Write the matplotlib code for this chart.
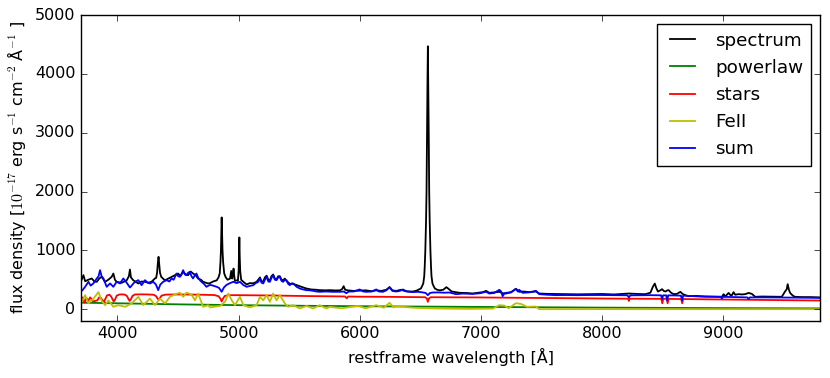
import matplotlib
matplotlib.use("Agg")
import matplotlib.pyplot as plt

# spectrum (black)
wl_spec = [3700, 3706, 3720, 3734, 3760, 3789, 3810, 3830, 3850, 3871, 3898, 3925, 3953, 3967, 3980,
           3994, 4036, 4077, 4095, 4104, 4112, 4132, 4173, 4200, 4228, 4255, 4282, 4310, 4320, 4328,
           4334, 4340, 4346, 4352, 4362, 4392, 4420, 4447, 4475, 4502, 4520, 4543, 4565, 4584, 4605,
           4625, 4645, 4666, 4690, 4708, 4749, 4765, 4790, 4820, 4835, 4845, 4851, 4855, 4858, 4861,
           4864, 4868, 4873, 4882, 4895, 4910, 4930, 4940, 4948, 4955, 4959, 4963, 4970, 4985, 4995,
           5001, 5004, 5007, 5010, 5014, 5022, 5040, 5067, 5094, 5122, 5149, 5163, 5177, 5190, 5204,
           5218, 5232, 5246, 5259, 5272, 5286, 5300, 5314, 5328, 5341, 5355, 5369, 5382, 5396, 5424,
           5451, 5478, 5506, 5533, 5561, 5600, 5640, 5670, 5720, 5753, 5800, 5836, 5855, 5868, 5880,
           5900, 5950, 6000, 6050, 6100, 6137, 6180, 6220, 6247, 6270, 6302, 6340, 6380, 6420, 6440,
           6470, 6495, 6505, 6515, 6525, 6533, 6537, 6542, 6548, 6552, 6556, 6560, 6563, 6566, 6570,
           6574, 6578, 6584, 6589, 6593, 6601, 6611, 6621, 6640, 6660, 6690, 6716, 6731, 6760, 6790,
           6824, 6880, 6933, 6980, 7020, 7043, 7070, 7110, 7153, 7180, 7208, 7250, 7290, 7317, 7350,
           7400, 7455, 7482, 7550, 7620, 7729, 7800, 7920, 8000, 8100, 8222, 8300, 8359, 8400, 8420,
           8436, 8448, 8462, 8482, 8496, 8510, 8524, 8540, 8551, 8570, 8592, 8620, 8647, 8665, 8688,
           8716, 8780, 8853, 8920, 8990, 9004, 9018, 9045, 9060, 9073, 9086, 9100, 9127, 9155, 9182,
           9210, 9237, 9265, 9320, 9400, 9484, 9511, 9525, 9533, 9543, 9553, 9575, 9594, 9650, 9720,
           9800]
flux_spec = [480, 504, 578, 475, 500, 522, 470, 465, 520, 550, 465, 500, 550, 606, 500,
             465, 448, 490, 560, 674, 540, 490, 437, 470, 465, 450, 465, 522, 530, 620,
             780, 890, 760, 620, 550, 490, 520, 550, 580, 606, 560, 635, 590, 578, 640,
             606, 580, 522, 500, 465, 437, 443, 470, 490, 540, 607, 800, 1003, 1300, 1560,
             1300, 1003, 800, 607, 540, 500, 520, 650, 520, 600, 690, 600, 480, 490, 480,
             650, 900, 1220, 900, 650, 500, 465, 420, 443, 440, 465, 500, 540, 470, 470,
             540, 570, 500, 490, 560, 590, 520, 510, 560, 560, 500, 490, 520, 480, 430,
             430, 410, 390, 370, 351, 335, 330, 323, 320, 323, 318, 320, 340, 391, 330,
             320, 310, 315, 320, 305, 320, 310, 330, 374, 320, 310, 330, 305, 300, 300,
             315, 340, 351, 390, 436, 560, 720, 1000, 1500, 2000, 3000, 3900, 4470, 3900, 3000,
             2000, 1500, 1000, 720, 560, 436, 390, 351, 330, 320, 330, 374, 350, 300, 290,
             278, 275, 266, 280, 290, 312, 278, 285, 295, 270, 266, 290, 346, 295, 300,
             290, 300, 266, 260, 258, 255, 252, 255, 258, 250, 266, 258, 255, 280, 380,
             436, 360, 300, 320, 340, 310, 300, 320, 323, 280, 255, 260, 295, 260, 238,
             221, 225, 215, 212, 210, 255, 215, 276, 240, 238, 289, 245, 255, 250, 255,
             276, 260, 210, 215, 212, 210, 300, 340, 425, 330, 276, 230, 210, 205, 205,
             200]

# powerlaw (green)
wl_pl = [3700, 4000, 4500, 5000, 5500, 6000, 6500, 7000, 7500, 8000, 8500, 9000, 9500, 9800]
flux_pl = [110, 100, 82, 68, 58, 50, 44, 38, 32, 26, 22, 18, 15, 13]

# stars (red)
wl_stars = [3700, 3715, 3730, 3745, 3760, 3775, 3790, 3800, 3815, 3835, 3850, 3865, 3880, 3889, 3900,
            3915, 3935, 3950, 3962, 3970, 3980, 3995, 4015, 4040, 4065, 4080, 4092, 4102, 4112, 4125,
            4145, 4200, 4250, 4300, 4320, 4332, 4340, 4350, 4365, 4400, 4500, 4600, 4700, 4800, 4835,
            4850, 4861, 4872, 4887, 4920, 5000, 5100, 5200, 5300, 5400, 5500, 5600, 5700, 5880, 5893,
            5906, 6000, 6200, 6400, 6540, 6555, 6563, 6571, 6586, 6700, 7000, 7200, 7500, 7800, 8000,
            8200, 8215, 8222, 8229, 8490, 8498, 8506, 8534, 8542, 8550, 8654, 8662, 8670, 9000, 9200,
            9500, 9800]
flux_stars = [150, 200, 110, 190, 140, 200, 160, 130, 140, 150, 200, 190, 140, 120, 170,
              235, 245, 210, 160, 130, 160, 230, 248, 252, 245, 220, 170, 140, 170, 225,
              250, 252, 250, 245, 220, 180, 160, 185, 230, 248, 250, 248, 245, 240, 220,
              180, 130, 180, 225, 238, 238, 236, 234, 232, 228, 225, 222, 220, 216, 185,
              215, 212, 210, 206, 203, 180, 125, 180, 203, 202, 199, 195, 190, 185, 181,
              178, 178, 140, 178, 176, 100, 176, 175, 100, 175, 172, 100, 172, 164, 160,
              153, 147]

# FeII (yellow)
wl_fe = [3700, 3707, 3734, 3762, 3803, 3844, 3871, 3899, 3926, 3967, 4008, 4064, 4118, 4173, 4214,
         4269, 4310, 4352, 4393, 4434, 4475, 4516, 4543, 4571, 4612, 4640, 4667, 4708, 4749, 4765,
         4848, 4889, 4916, 4944, 4971, 5012, 5040, 5094, 5149, 5177, 5204, 5232, 5259, 5286, 5314,
         5341, 5382, 5410, 5451, 5506, 5561, 5616, 5670, 5725, 5753, 5850, 5986, 6050, 6137, 6200,
         6247, 6280, 6302, 6357, 6439, 6550, 6700, 6900, 7100, 7153, 7194, 7230, 7290, 7331, 7380,
         7455, 7482, 9800]
flux_fe = [125, 125, 238, 98, 180, 290, 140, 68, 150, 40, 68, 40, 98, 210, 68,
           180, 68, 180, 98, 210, 250, 280, 210, 280, 250, 150, 265, 40, 68, 30,
           55, 125, 266, 150, 68, 210, 68, 30, 68, 210, 150, 240, 125, 266, 150,
           240, 98, 40, 68, 12, 55, 12, 68, 12, 40, 15, 55, 15, 68, 25,
           108, 30, 55, 40, 25, 15, 10, 5, 10, 68, 60, 15, 102, 90, 40,
           45, 0, 0]

# sum (blue)
wl_sum = [3700, 3715, 3734, 3761, 3780, 3802, 3830, 3845, 3857, 3870, 3885, 3912, 3940, 3967, 3994,
          4022, 4049, 4070, 4090, 4104, 4118, 4132, 4150, 4173, 4200, 4228, 4250, 4269, 4296, 4318,
          4337, 4355, 4378, 4406, 4430, 4447, 4465, 4488, 4502, 4516, 4530, 4543, 4557, 4570, 4585,
          4598, 4612, 4625, 4640, 4653, 4670, 4694, 4715, 4735, 4765, 4790, 4820, 4840, 4861, 4880,
          4902, 4930, 4957, 4985, 5012, 5040, 5067, 5094, 5122, 5140, 5163, 5177, 5190, 5204, 5218,
          5232, 5246, 5259, 5272, 5286, 5300, 5314, 5328, 5341, 5355, 5369, 5382, 5396, 5410, 5424,
          5438, 5451, 5480, 5506, 5533, 5561, 5590, 5616, 5645, 5670, 5720, 5780, 5836, 5870, 5890,
          5910, 5950, 6000, 6030, 6055, 6100, 6137, 6160, 6192, 6220, 6247, 6270, 6302, 6330, 6357,
          6390, 6439, 6480, 6521, 6545, 6563, 6580, 6604, 6650, 6700, 6741, 6796, 6850, 6933, 6990,
          7043, 7070, 7110, 7153, 7168, 7180, 7195, 7208, 7250, 7290, 7305, 7317, 7345, 7400, 7455,
          7482, 7550, 7619, 7700, 7800, 7900, 8000, 8100, 8210, 8222, 8235, 8300, 8400, 8488, 8496,
          8505, 8530, 8538, 8547, 8600, 8652, 8661, 8670, 8750, 8800, 8900, 8980, 8990, 9000, 9100,
          9200, 9210, 9220, 9350, 9500, 9650, 9800]
flux_sum = [300, 330, 380, 465, 400, 437, 522, 560, 663, 560, 522, 380, 437, 380, 465,
            437, 522, 470, 408, 368, 400, 437, 470, 493, 408, 493, 450, 437, 465, 420,
            323, 420, 465, 493, 470, 522, 500, 606, 560, 550, 600, 663, 590, 578, 620,
            635, 560, 522, 580, 606, 520, 465, 430, 380, 414, 400, 380, 360, 295, 370,
            414, 443, 465, 443, 465, 410, 380, 395, 408, 440, 465, 522, 450, 437, 500,
            550, 470, 465, 530, 578, 500, 493, 540, 550, 480, 465, 500, 493, 430, 408,
            440, 437, 380, 351, 335, 323, 320, 312, 300, 295, 300, 295, 295, 300, 270,
            300, 300, 335, 300, 295, 300, 335, 300, 295, 320, 374, 310, 300, 310, 335,
            300, 290, 295, 285, 275, 238, 275, 283, 285, 280, 283, 255, 265, 260, 270,
            295, 266, 275, 329, 300, 221, 270, 278, 285, 346, 300, 329, 278, 285, 312,
            255, 245, 238, 240, 238, 240, 240, 238, 236, 200, 236, 236, 238, 235, 170,
            235, 235, 150, 235, 232, 230, 150, 230, 220, 215, 212, 210, 180, 210, 205,
            200, 170, 200, 200, 198, 195, 192]

plt.style.use('classic')
plt.rcParams['font.size'] = 11.5
plt.rcParams['figure.facecolor'] = 'white'

fig = plt.figure(figsize=(8.3, 3.78), dpi=100)
ax = fig.add_axes([0.0976, 0.151, 0.8904, 0.809])

lw = 1.3
ax.plot(wl_spec, flux_spec, color='k', lw=lw, label='spectrum')
ax.plot(wl_pl, flux_pl, color='g', lw=lw, label='powerlaw')
ax.plot(wl_stars, flux_stars, color='r', lw=lw, label='stars')
ax.plot(wl_fe, flux_fe, color='y', lw=lw, label='FeII')
ax.plot(wl_sum, flux_sum, color='b', lw=lw, label='sum')

ax.set_xlim(3700, 9800)
ax.set_ylim(-200, 5000)
ax.set_xlabel(u'restframe wavelength [\u00c5]')
ax.set_ylabel(u'flux density [$10^{-17}$ erg s$^{-1}$ cm$^{-2}$ \u00c5$^{-1}$ ]')
ax.legend(loc='upper right', fontsize=13.2)

fig.savefig('out.png', dpi=100, facecolor='white')
